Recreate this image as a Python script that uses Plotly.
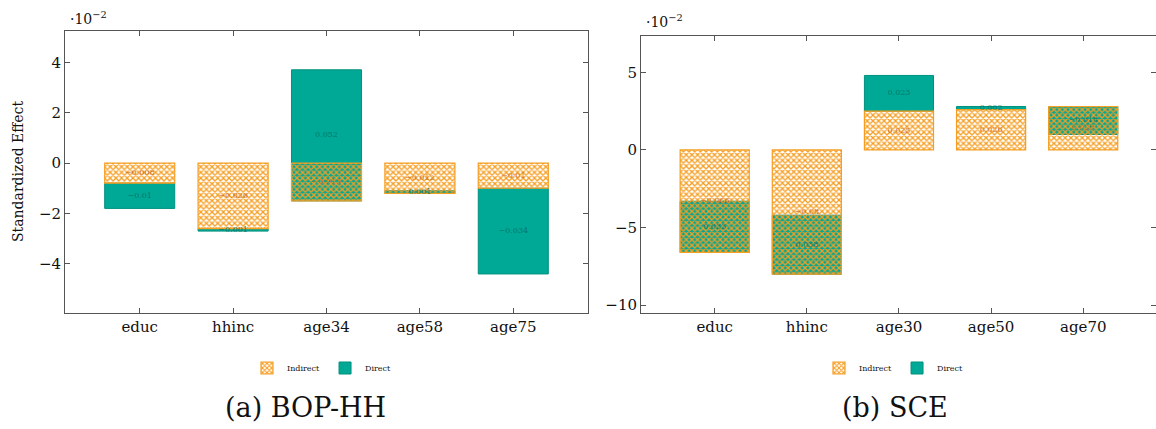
import plotly.graph_objects as go

# ---- data ----
cats_a = ["educ", "hhinc", "age34", "age58", "age75"]
indirect_a = [-0.008, -0.026, -0.015, -0.012, -0.010]
direct_a = [-0.010, -0.001, 0.052, 0.001, -0.034]

cats_b = ["educ", "hhinc", "age30", "age50", "age70"]
indirect_b = [-0.066, -0.080, 0.025, 0.026, 0.028]
direct_b = [0.033, 0.038, 0.023, 0.002, -0.018]

yticks_a = [-4, -2, 0, 2, 4]
yticks_b = [-10, -5, 0, 5]

SCALE = 100  # axis shown in units of 10^-2

ORANGE = "#F59E22"
TEAL = "#00A896"
TEAL_LINE = "#00917F"
FONT = "DejaVu Serif"
AXC = "#555555"


def fmt(v):
    return f"{v:g}".replace("-", "\u2212")


fig = go.Figure()


def add_panel(cats, ind, dire, xa, ya, legend):
    ind_s = [v * SCALE for v in ind]
    dir_s = [v * SCALE for v in dire]
    fig.add_trace(go.Bar(
        x=cats, y=dir_s, base=ind_s, width=0.75, name="Direct",
        marker=dict(color=TEAL, line=dict(color=TEAL_LINE, width=1)),
        xaxis=xa, yaxis=ya, legend=legend, legendrank=2,
    ))
    fig.add_trace(go.Bar(
        x=cats, y=ind_s, base=[0] * len(cats), width=0.75, name="Indirect",
        marker=dict(color="rgba(0,0,0,0)", line=dict(color=ORANGE, width=1.2),
                    pattern=dict(shape="x", fgcolor=ORANGE, bgcolor="rgba(0,0,0,0)",
                                 size=4, solidity=0.55, fillmode="replace")),
        xaxis=xa, yaxis=ya, legend=legend, legendrank=1,
    ))
    fig.add_trace(go.Scatter(
        x=cats, y=[v / 2 for v in ind_s], mode="text",
        text=[fmt(v) for v in ind],
        textfont=dict(size=8, color="rgba(200,105,35,0.9)", family=FONT),
        xaxis=xa, yaxis=ya, showlegend=False, hoverinfo="skip",
    ))
    fig.add_trace(go.Scatter(
        x=cats, y=[b + v / 2 for b, v in zip(ind_s, dir_s)], mode="text",
        text=[fmt(v) for v in dire],
        textfont=dict(size=8, color="rgba(0,115,100,0.9)", family=FONT),
        xaxis=xa, yaxis=ya, showlegend=False, hoverinfo="skip",
    ))


add_panel(cats_a, indirect_a, direct_a, "x", "y", "legend")
add_panel(cats_b, indirect_b, direct_b, "x2", "y2", "legend2")

W, H = 1156, 429

axis_common = dict(showline=True, linecolor=AXC, linewidth=1, mirror="allticks",
                   ticks="inside", ticklen=5, tickcolor=AXC, showgrid=False,
                   zeroline=False, tickfont=dict(family=FONT, size=15, color="#111"))

fig.update_layout(
    width=W, height=H, margin=dict(l=0, r=0, t=0, b=0),
    paper_bgcolor="white", plot_bgcolor="white",
    barmode="overlay", font=dict(family=FONT, color="#111"),
    xaxis=dict(domain=[65 / W, 588 / W], range=[-0.8, 4.8], anchor="y", **axis_common),
    yaxis=dict(domain=[1 - 313 / H, 1 - 31 / H], range=[-5.95, 5.24], anchor="x",
               tickvals=yticks_a, **axis_common),
    xaxis2=dict(domain=[641 / W, 1.0], range=[-0.8, 4.79], anchor="y2", **axis_common),
    yaxis2=dict(domain=[1 - 313 / H, 1 - 36 / H], range=[-10.5, 7.34], anchor="x2",
                tickvals=yticks_b, **axis_common),
    legend=dict(orientation="h", x=322 / W, y=1 - 368 / H, xanchor="center", yanchor="middle",
                font=dict(size=8, family=FONT), bgcolor="rgba(0,0,0,0)", itemwidth=30,
                tracegroupgap=0),
    legend2=dict(orientation="h", x=894 / W, y=1 - 368 / H, xanchor="center", yanchor="middle",
                 font=dict(size=8, family=FONT), bgcolor="rgba(0,0,0,0)", itemwidth=30,
                 tracegroupgap=0),
    annotations=[
        dict(text="\u00b710<sup>\u22122</sup>", x=68 / W, y=1 - 18 / H, xref="paper", yref="paper",
             xanchor="left", yanchor="middle", showarrow=False, font=dict(size=14, family=FONT)),
        dict(text="\u00b710<sup>\u22122</sup>", x=644 / W, y=1 - 21 / H, xref="paper", yref="paper",
             xanchor="left", yanchor="middle", showarrow=False, font=dict(size=14, family=FONT)),
        dict(text="Standardized Effect", x=18 / W, y=1 - 172 / H, xref="paper", yref="paper",
             textangle=-90, xanchor="center", yanchor="middle", showarrow=False,
             font=dict(size=14, family=FONT)),
        dict(text="(a) BOP-HH", x=305 / W, y=1 - 407 / H, xref="paper", yref="paper",
             xanchor="center", yanchor="middle", showarrow=False, font=dict(size=27, family=FONT)),
        dict(text="(b) SCE", x=895 / W, y=1 - 407 / H, xref="paper", yref="paper",
             xanchor="center", yanchor="middle", showarrow=False, font=dict(size=27, family=FONT)),
    ],
)

fig.write_html("out.html")
